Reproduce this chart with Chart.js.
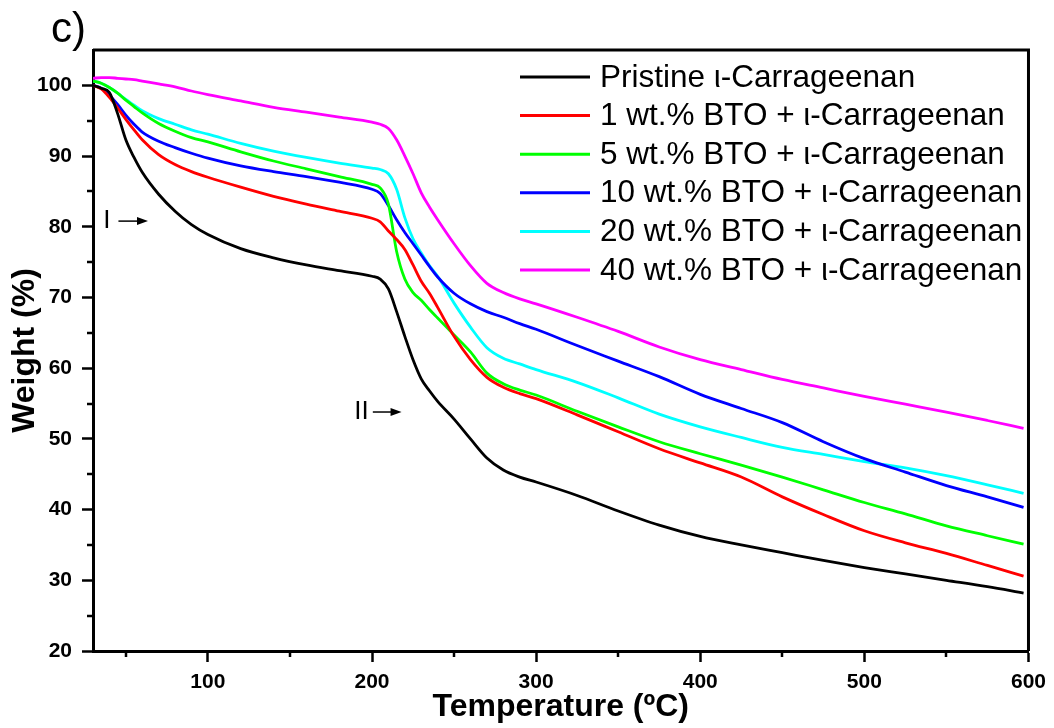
<!DOCTYPE html>
<html>
<head>
<meta charset="utf-8">
<script src="https://cdn.jsdelivr.net/npm/chart.js@4.4.1/dist/chart.umd.min.js"></script>
<style>
    html, body { margin: 0; padding: 0; background: #fff; }
</style>
</head>
<body>
<canvas id="tga" width="1054" height="728"></canvas>
<script>
// temperature grid (ºC) shared by all curves
const temps = [30, 35, 40, 45, 50, 55, 60, 70, 80, 90, 100, 120, 140, 160, 180, 200, 205, 210, 215, 220,
    225, 230, 235, 240, 250, 260, 270, 280, 290, 300, 325, 350, 375, 400, 425, 450, 475, 500, 525, 550, 575, 597];

// weight (%)
const pristine = [100, 99.6, 99.0, 96.0, 92.3, 89.8, 87.7, 84.6, 82.2, 80.3, 78.9, 76.9, 75.6, 74.6, 73.8, 73.0, 72.6, 71.2, 68, 64.5,
    61.2, 58.5, 56.8, 55.3, 52.8, 50.0, 47.3, 45.6, 44.6, 43.9, 42.0, 39.8, 37.8, 36.2, 35.0, 33.9, 32.8, 31.8, 30.9, 30.0, 29.1, 28.2];
const bto1 = [100, 99.5, 98.3, 96.8, 95.2, 93.7, 92.3, 90.2, 88.8, 87.8, 87, 85.6, 84.3, 83.2, 82.2, 81.2, 80.7, 79.4, 78.2, 76.8,
    74.6, 72.3, 70.6, 68.6, 64.5, 61.2, 58.7, 57.3, 56.4, 55.7, 53.4, 51.0, 48.6, 46.6, 44.6, 41.8, 39.3, 37.0, 35.3, 33.8, 32.1, 30.6];
const bto5 = [100.6, 100.3, 99.7, 98.9, 97.9, 97.0, 96.1, 94.6, 93.5, 92.6, 92.0, 90.6, 89.3, 88.2, 87.1, 86.0, 85.5, 83.2, 76.5, 72.6,
    70.7, 69.6, 68.3, 67.1, 64.7, 62.3, 59.3, 57.8, 56.9, 56.2, 53.9, 51.7, 49.6, 47.9, 46.3, 44.6, 42.8, 41.0, 39.4, 37.7, 36.3, 35.1];
const bto10 = [100, 99.6, 98.6, 97.3, 95.8, 94.5, 93.4, 92.1, 91.2, 90.4, 89.7, 88.6, 87.8, 87.1, 86.3, 85.3, 84.7, 83.0, 81.0, 79.2,
    77.6, 76.0, 74.4, 72.9, 70.6, 69.1, 68.0, 67.2, 66.3, 65.5, 63.2, 61.0, 58.8, 56.3, 54.3, 52.3, 49.6, 47.2, 45.3, 43.4, 41.8, 40.3];
const bto20 = [100.6, 100.3, 99.7, 98.9, 98.0, 97.2, 96.4, 95.3, 94.5, 93.7, 93.1, 91.8, 90.7, 89.8, 89.0, 88.3, 88.1, 87.5, 85.3, 81.3,
    78.3, 76.3, 74.5, 73.0, 69.2, 65.8, 62.9, 61.4, 60.6, 59.8, 58.0, 55.8, 53.5, 51.7, 50.2, 48.8, 47.8, 46.8, 45.9, 44.8, 43.5, 42.3];
const bto40 = [101, 101.1, 101.1, 101.0, 100.9, 100.8, 100.6, 100.2, 99.8, 99.2, 98.7, 97.8, 96.9, 96.2, 95.5, 94.8, 94.5, 93.9, 92.3, 90.0,
    87.5, 84.8, 82.8, 81.0, 77.6, 74.5, 72.0, 70.7, 69.8, 69.1, 67.2, 65.2, 63.0, 61.2, 59.8, 58.4, 57.2, 56.0, 54.9, 53.8, 52.6, 51.5];

const seriesNames = [
    "Pristine \u03b9-Carrageenan",
    "1 wt.% BTO + \u03b9-Carrageenan",
    "5 wt.% BTO + \u03b9-Carrageenan",
    "10 wt.% BTO + \u03b9-Carrageenan",
    "20 wt.% BTO + \u03b9-Carrageenan",
    "40 wt.% BTO + \u03b9-Carrageenan"
];
const seriesData = [pristine, bto1, bto5, bto10, bto20, bto40];
const seriesColors = ["#000000", "#ff0000", "#00ff00", "#0000ff", "#00ffff", "#ff00ff"];

const xMajorTicks = [100, 200, 300, 400, 500, 600];
const xMinorTicks = [50, 150, 250, 350, 450, 550];
const yMajorTicks = [20, 30, 40, 50, 60, 70, 80, 90, 100];
const yMinorTicks = [25, 35, 45, 55, 65, 75, 85, 95];

// decomposition stage markers: label position and arrow span, in data units
const stageMarks = [
    { text: "I", x: 38.5, y: 80.8, from: 45.5, to: 63.5 },
    { text: "II", x: 193.6, y: 53.8, from: 200.5, to: 218 }
];

const FONT = "'Liberation Sans', Arial, sans-serif";

const decorPlugin = {
    id: "decor",
    afterDraw(chart) {
        const { ctx, chartArea: area, scales: { x, y } } = chart;
        ctx.save();

        // frame top and right
        ctx.strokeStyle = "#000";
        ctx.lineWidth = 3;
        ctx.beginPath();
        ctx.moveTo(area.left, area.top);
        ctx.lineTo(area.right, area.top);
        ctx.lineTo(area.right, area.bottom);
        ctx.stroke();

        // minor ticks
        ctx.lineWidth = 2.5;
        ctx.beginPath();
        xMinorTicks.forEach(v => {
            const px = Math.round(x.getPixelForValue(v));
            ctx.moveTo(px, area.bottom);
            ctx.lineTo(px, area.bottom + 6);
        });
        yMinorTicks.forEach(v => {
            const py = Math.round(y.getPixelForValue(v));
            ctx.moveTo(area.left - 6, py);
            ctx.lineTo(area.left, py);
        });
        ctx.stroke();

        // panel letter
        ctx.fillStyle = "#000";
        ctx.font = `42px ${FONT}`;
        ctx.textAlign = "left";
        ctx.textBaseline = "alphabetic";
        ctx.fillText("c)", 51, 42);

        // legend
        ctx.font = `31.5px ${FONT}`;
        ctx.textBaseline = "middle";
        chart.data.datasets.forEach((ds, i) => {
            const rowY = 77 + i * 38.6;
            ctx.strokeStyle = ds.borderColor;
            ctx.lineWidth = 3;
            ctx.beginPath();
            ctx.moveTo(520, rowY);
            ctx.lineTo(590, rowY);
            ctx.stroke();
            ctx.fillStyle = "#000";
            ctx.fillText(ds.label, 600, rowY + 1);
        });

        // stage markers
        ctx.font = `26px ${FONT}`;
        ctx.textAlign = "center";
        ctx.strokeStyle = "#000";
        ctx.fillStyle = "#000";
        stageMarks.forEach(m => {
            const py = y.getPixelForValue(m.y);
            ctx.fillText(m.text, x.getPixelForValue(m.x), py);
            const x0 = x.getPixelForValue(m.from);
            const x1 = x.getPixelForValue(m.to);
            ctx.lineWidth = 1.5;
            ctx.beginPath();
            ctx.moveTo(x0, py);
            ctx.lineTo(x1 - 8, py);
            ctx.stroke();
            ctx.beginPath();
            ctx.moveTo(x1, py);
            ctx.lineTo(x1 - 11, py - 4);
            ctx.lineTo(x1 - 11, py + 4);
            ctx.closePath();
            ctx.fill();
        });

        ctx.restore();
    }
};

const canvas = document.getElementById("tga");

new Chart(canvas, {
    type: "line",
    data: {
        datasets: seriesNames.map((name, i) => ({
            label: name,
            data: temps.map((t, j) => ({ x: t, y: seriesData[i][j] })),
            borderColor: seriesColors[i],
            backgroundColor: seriesColors[i],
            borderWidth: 2.8,
            pointRadius: 0,
            cubicInterpolationMode: "monotone",
            fill: false
        }))
    },
    options: {
        responsive: false,
        animation: false,
        events: [],
        layout: {
            padding: { top: 50, right: 24, left: 0, bottom: 0 }
        },
        scales: {
            x: {
                type: "linear",
                min: 30,
                max: 600,
                afterFit: (scale) => { scale.height = 77; },
                afterBuildTicks: (scale) => { scale.ticks = xMajorTicks.map(v => ({ value: v })); },
                grid: {
                    drawOnChartArea: false,
                    drawTicks: true,
                    tickLength: 11,
                    tickWidth: 2.5,
                    tickColor: "#000"
                },
                border: { display: true, color: "#000", width: 3 },
                ticks: {
                    color: "#000",
                    padding: 8,
                    maxRotation: 0,
                    font: { family: FONT, size: 21, weight: "bold" }
                },
                title: {
                    display: true,
                    text: "Temperature (\u00baC)",
                    color: "#000",
                    padding: { top: 0, bottom: 2 },
                    font: { family: FONT, size: 32, weight: "bold" }
                }
            },
            y: {
                type: "linear",
                min: 20,
                max: 105,
                afterFit: (scale) => { scale.width = 93; },
                afterBuildTicks: (scale) => { scale.ticks = yMajorTicks.map(v => ({ value: v })); },
                grid: {
                    drawOnChartArea: false,
                    drawTicks: true,
                    tickLength: 11,
                    tickWidth: 2.5,
                    tickColor: "#000"
                },
                border: { display: true, color: "#000", width: 3 },
                ticks: {
                    color: "#000",
                    padding: 10,
                    font: { family: FONT, size: 21, weight: "bold" }
                },
                title: {
                    display: true,
                    text: "Weight (%)",
                    color: "#000",
                    padding: { top: 6, bottom: 0 },
                    font: { family: FONT, size: 32, weight: "bold" }
                }
            }
        },
        plugins: {
            legend: { display: false },
            tooltip: { enabled: false }
        }
    },
    plugins: [decorPlugin]
});
</script>
</body>
</html>
